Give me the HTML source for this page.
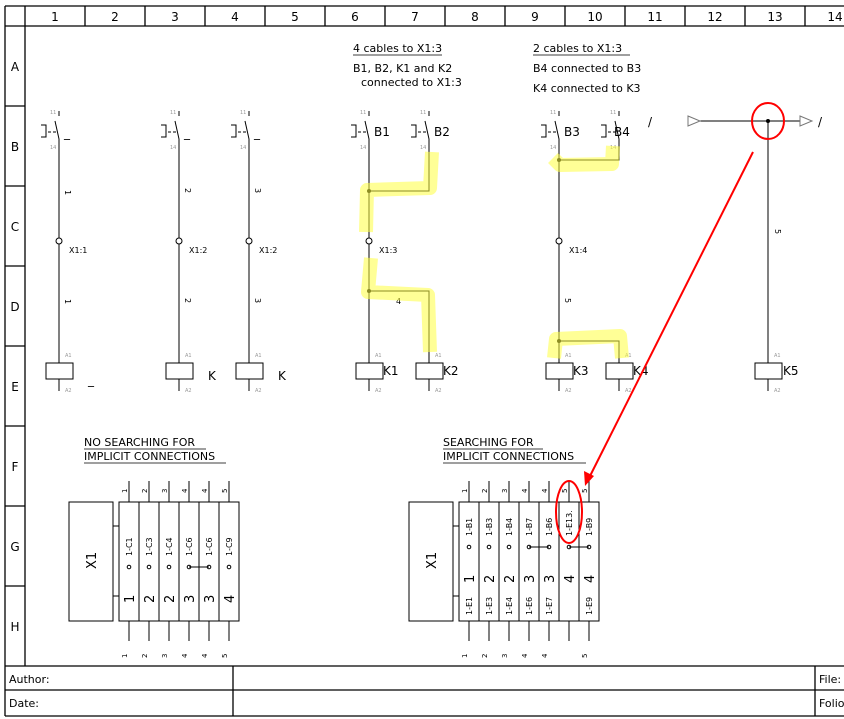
<!DOCTYPE html>
<html><head><meta charset="utf-8"><style>
html,body{margin:0;padding:0;background:#fff;}
svg{display:block;font-family:"DejaVu Sans","Liberation Sans",sans-serif;}
.s{fill:#999;font-size:5px}
.t{font-size:11px;fill:#000}
.w{stroke:#000;stroke-width:1;fill:none}
</style></head><body>
<svg width="844" height="719" viewBox="0 0 844 719" xmlns="http://www.w3.org/2000/svg">
<g stroke="#000" stroke-width="1.3" fill="none">
<path d="M5,6 H850 M5,26 H850 M5,6 V716 M25,6 V666 M5,716 H850 M5,666 H850 M5,690 H850 M233,666 V716 M815,666 V716"/>
<path d="M85,6V26 M145,6V26 M205,6V26 M265,6V26 M325,6V26 M385,6V26 M445,6V26 M505,6V26 M565,6V26 M625,6V26 M685,6V26 M745,6V26 M805,6V26"/>
<path d="M5,106H25 M5,186H25 M5,266H25 M5,346H25 M5,426H25 M5,506H25 M5,586H25"/>
</g>
<g font-size="12" text-anchor="middle">
<text x="55" y="21">1</text><text x="115" y="21">2</text><text x="175" y="21">3</text><text x="235" y="21">4</text><text x="295" y="21">5</text><text x="355" y="21">6</text><text x="415" y="21">7</text><text x="475" y="21">8</text><text x="535" y="21">9</text><text x="595" y="21">10</text><text x="655" y="21">11</text><text x="715" y="21">12</text><text x="775" y="21">13</text><text x="835" y="21">14</text>
<text x="15" y="71">A</text><text x="15" y="151">B</text><text x="15" y="231">C</text><text x="15" y="311">D</text><text x="15" y="391">E</text><text x="15" y="471">F</text><text x="15" y="551">G</text><text x="15" y="631">H</text>
</g>
<g font-size="11"><text x="9" y="683">Author:</text><text x="9" y="707">Date:</text><text x="819" y="683">File:</text><text x="819" y="707">Folio</text></g>

<g class="t">
<text x="353" y="52">4 cables to X1:3</text><text x="353" y="72">B1, B2, K1 and K2</text><text x="361" y="86">connected to X1:3</text>
<text x="533" y="52">2 cables to X1:3</text><text x="533" y="72">B4 connected to B3</text><text x="533" y="92">K4 connected to K3</text>
<text x="84" y="446">NO SEARCHING FOR</text><text x="84" y="460">IMPLICIT CONNECTIONS</text>
<text x="443" y="446">SEARCHING FOR</text><text x="443" y="460">IMPLICIT CONNECTIONS</text>
</g>
<path d="M353,55H442 M533,55H630 M84,449H206 M84,463H226 M443,449H543 M443,463H586" stroke="#000" stroke-width="0.8"/>

<g class="w">
<g transform="translate(59,0)"><path d="M0,111V116 M-4,121L0,139V152 M-18,125H-13V137H-18"/><path d="M-11,132H-3" stroke-dasharray="3,2"/></g>
<g transform="translate(179,0)"><path d="M0,111V116 M-4,121L0,139V152 M-18,125H-13V137H-18"/><path d="M-11,132H-3" stroke-dasharray="3,2"/></g>
<g transform="translate(249,0)"><path d="M0,111V116 M-4,121L0,139V152 M-18,125H-13V137H-18"/><path d="M-11,132H-3" stroke-dasharray="3,2"/></g>
<g transform="translate(369,0)"><path d="M0,111V116 M-4,121L0,139V152 M-18,125H-13V137H-18"/><path d="M-11,132H-3" stroke-dasharray="3,2"/></g>
<g transform="translate(429,0)"><path d="M0,111V116 M-4,121L0,139V152 M-18,125H-13V137H-18"/><path d="M-11,132H-3" stroke-dasharray="3,2"/></g>
<g transform="translate(559,0)"><path d="M0,111V116 M-4,121L0,139V152 M-18,125H-13V137H-18"/><path d="M-11,132H-3" stroke-dasharray="3,2"/></g>
<g transform="translate(619,0)"><path d="M0,111V116 M-4,121L0,139V152 M-18,125H-13V137H-18"/><path d="M-11,132H-3" stroke-dasharray="3,2"/></g>
<g transform="translate(59,0)"><path d="M0,352V363 M0,379V391"/><rect x="-13" y="363" width="27" height="16"/></g>
<g transform="translate(179,0)"><path d="M0,352V363 M0,379V391"/><rect x="-13" y="363" width="27" height="16"/></g>
<g transform="translate(249,0)"><path d="M0,352V363 M0,379V391"/><rect x="-13" y="363" width="27" height="16"/></g>
<g transform="translate(369,0)"><path d="M0,352V363 M0,379V391"/><rect x="-13" y="363" width="27" height="16"/></g>
<g transform="translate(429,0)"><path d="M0,352V363 M0,379V391"/><rect x="-13" y="363" width="27" height="16"/></g>
<g transform="translate(559,0)"><path d="M0,352V363 M0,379V391"/><rect x="-13" y="363" width="27" height="16"/></g>
<g transform="translate(619,0)"><path d="M0,352V363 M0,379V391"/><rect x="-13" y="363" width="27" height="16"/></g>
<g transform="translate(768,0)"><path d="M0,352V363 M0,379V391"/><rect x="-13" y="363" width="27" height="16"/></g>
<path d="M59,152V238 M59,244V352 M179,152V238 M179,244V352 M249,152V238 M249,244V352 M369,152V238 M369,244V352 M559,152V238 M559,244V352"/>
<path d="M429,152V191H369 M369,291H429V352 M619,152V160H559 M559,341H619V352"/>
<path d="M768,121V352 M700,121H800"/>
<path d="M688,116L700,121L688,126Z M800,116L812,121L800,126Z" stroke="#777"/>
<circle cx="59" cy="241" r="3"/><circle cx="179" cy="241" r="3"/><circle cx="249" cy="241" r="3"/><circle cx="369" cy="241" r="3"/><circle cx="559" cy="241" r="3"/>
</g>
<g fill="#000"><circle cx="369" cy="191" r="2"/><circle cx="369" cy="291" r="2"/><circle cx="559" cy="160" r="2"/><circle cx="559" cy="341" r="2"/><circle cx="768" cy="121" r="2"/></g>
<g class="s">
<text x="50" y="114">11</text><text x="50" y="149">14</text><text x="170" y="114">11</text><text x="170" y="149">14</text><text x="240" y="114">11</text><text x="240" y="149">14</text><text x="360" y="114">11</text><text x="360" y="149">14</text><text x="420" y="114">11</text><text x="420" y="149">14</text><text x="550" y="114">11</text><text x="550" y="149">14</text><text x="610" y="114">11</text><text x="610" y="149">14</text>
<text x="65" y="357">A1</text><text x="65" y="392">A2</text><text x="185" y="357">A1</text><text x="185" y="392">A2</text><text x="255" y="357">A1</text><text x="255" y="392">A2</text><text x="375" y="357">A1</text><text x="375" y="392">A2</text><text x="435" y="357">A1</text><text x="435" y="392">A2</text><text x="565" y="357">A1</text><text x="565" y="392">A2</text><text x="625" y="357">A1</text><text x="625" y="392">A2</text><text x="774" y="357">A1</text><text x="774" y="392">A2</text>
</g>
<g font-size="12">
<text x="64" y="137">_</text><text x="184" y="137">_</text><text x="254" y="137">_</text>
<text x="374" y="136">B1</text><text x="434" y="136">B2</text><text x="564" y="136">B3</text><text x="614" y="136">B4</text>
<text x="88" y="384">_</text><text x="208" y="380">K</text><text x="278" y="380">K</text>
<text x="383" y="375">K1</text><text x="443" y="375">K2</text><text x="573" y="375">K3</text><text x="633" y="375">K4</text><text x="783" y="375">K5</text>
<text x="648" y="126">/</text><text x="818" y="126">/</text>
</g>
<g font-size="8">
<text x="69" y="253">X1:1</text><text x="189" y="253">X1:2</text><text x="259" y="253">X1:2</text><text x="379" y="253">X1:3</text><text x="569" y="253">X1:4</text>
<text x="396" y="304">4</text>
<text transform="translate(65,190) rotate(90)">1</text><text transform="translate(65,299) rotate(90)">1</text>
<text transform="translate(185,188) rotate(90)">2</text><text transform="translate(185,298) rotate(90)">2</text>
<text transform="translate(255,188) rotate(90)">3</text><text transform="translate(255,298) rotate(90)">3</text>
<text transform="translate(565,298) rotate(90)">5</text><text transform="translate(775,229) rotate(90)">5</text>
</g>
<g stroke="#ffff40" stroke-opacity="0.55" stroke-width="14" fill="none" stroke-linejoin="round">
<path d="M432,152L430,188L367,190L366,232"/>
<path d="M371,258L368,292L428,295L430,352"/>
<path d="M553,158L560,165L612,164L613,146"/>
<path d="M554,358L556,339L620,336L622,358"/>
</g>

<g class="w">
<rect x="69" y="502" width="44" height="119"/><path d="M113,526H119 M113,596H119"/>
<rect x="119" y="502" width="120" height="119"/>
<path d="M139,502V621 M159,502V621 M179,502V621 M199,502V621 M219,502V621"/>
<path d="M129,481V502 M149,481V502 M169,481V502 M189,481V502 M209,481V502 M229,481V502 M129,621V641 M149,621V641 M169,621V641 M189,621V641 M209,621V641 M229,621V641"/>
<path d="M189,567H209"/>
<circle cx="129" cy="567" r="1.8"/><circle cx="149" cy="567" r="1.8"/><circle cx="169" cy="567" r="1.8"/><circle cx="189" cy="567" r="1.8"/><circle cx="209" cy="567" r="1.8"/><circle cx="229" cy="567" r="1.8"/>
<rect x="409" y="502" width="44" height="119"/><path d="M453,526H459 M453,596H459"/>
<rect x="459" y="502" width="140" height="119"/>
<path d="M479,502V621 M499,502V621 M519,502V621 M539,502V621 M559,502V621 M579,502V621"/>
<path d="M469,481V502 M489,481V502 M509,481V502 M529,481V502 M549,481V502 M569,481V502 M589,481V502 M469,621V641 M489,621V641 M509,621V641 M529,621V641 M549,621V641 M569,621V641 M589,621V641"/>
<path d="M529,547H549 M569,547H589"/>
<circle cx="469" cy="547" r="1.8"/><circle cx="489" cy="547" r="1.8"/><circle cx="509" cy="547" r="1.8"/><circle cx="529" cy="547" r="1.8"/><circle cx="549" cy="547" r="1.8"/><circle cx="569" cy="547" r="1.8"/><circle cx="589" cy="547" r="1.8"/>
</g>
<g font-size="13"><text transform="translate(96,569) rotate(-90)">X1</text><text transform="translate(436,569) rotate(-90)">X1</text></g>
<g font-size="8">
<text transform="translate(132,556) rotate(-90)">1-C1</text><text transform="translate(152,556) rotate(-90)">1-C3</text><text transform="translate(172,556) rotate(-90)">1-C4</text><text transform="translate(192,556) rotate(-90)">1-C6</text><text transform="translate(212,556) rotate(-90)">1-C6</text><text transform="translate(232,556) rotate(-90)">1-C9</text>
<text transform="translate(472,536) rotate(-90)">1-B1</text><text transform="translate(492,536) rotate(-90)">1-B3</text><text transform="translate(512,536) rotate(-90)">1-B4</text><text transform="translate(532,536) rotate(-90)">1-B7</text><text transform="translate(552,536) rotate(-90)">1-B6</text><text transform="translate(572,536) rotate(-90)">1-E13.</text><text transform="translate(592,536) rotate(-90)">1-B9</text>
<text transform="translate(472,615) rotate(-90)">1-E1</text><text transform="translate(492,615) rotate(-90)">1-E3</text><text transform="translate(512,615) rotate(-90)">1-E4</text><text transform="translate(532,615) rotate(-90)">1-E6</text><text transform="translate(552,615) rotate(-90)">1-E7</text><text transform="translate(592,615) rotate(-90)">1-E9</text>
</g>
<g font-size="7">
<text transform="translate(127,493) rotate(-90)">1</text><text transform="translate(147,493) rotate(-90)">2</text><text transform="translate(167,493) rotate(-90)">3</text><text transform="translate(187,493) rotate(-90)">4</text><text transform="translate(207,493) rotate(-90)">4</text><text transform="translate(227,493) rotate(-90)">5</text>
<text transform="translate(127,658) rotate(-90)">1</text><text transform="translate(147,658) rotate(-90)">2</text><text transform="translate(167,658) rotate(-90)">3</text><text transform="translate(187,658) rotate(-90)">4</text><text transform="translate(207,658) rotate(-90)">4</text><text transform="translate(227,658) rotate(-90)">5</text>
<text transform="translate(467,493) rotate(-90)">1</text><text transform="translate(487,493) rotate(-90)">2</text><text transform="translate(507,493) rotate(-90)">3</text><text transform="translate(527,493) rotate(-90)">4</text><text transform="translate(547,493) rotate(-90)">4</text><text transform="translate(567,493) rotate(-90)">5</text><text transform="translate(587,493) rotate(-90)">5</text>
<text transform="translate(467,658) rotate(-90)">1</text><text transform="translate(487,658) rotate(-90)">2</text><text transform="translate(507,658) rotate(-90)">3</text><text transform="translate(527,658) rotate(-90)">4</text><text transform="translate(547,658) rotate(-90)">4</text><text transform="translate(587,658) rotate(-90)">5</text>
</g>
<g font-size="13">
<text transform="translate(134,603) rotate(-90)">1</text><text transform="translate(154,603) rotate(-90)">2</text><text transform="translate(174,603) rotate(-90)">2</text><text transform="translate(194,603) rotate(-90)">3</text><text transform="translate(214,603) rotate(-90)">3</text><text transform="translate(234,603) rotate(-90)">4</text>
<text transform="translate(474,583) rotate(-90)">1</text><text transform="translate(494,583) rotate(-90)">2</text><text transform="translate(514,583) rotate(-90)">2</text><text transform="translate(534,583) rotate(-90)">3</text><text transform="translate(554,583) rotate(-90)">3</text><text transform="translate(574,583) rotate(-90)">4</text><text transform="translate(594,583) rotate(-90)">4</text>
</g>
<g stroke="#f00" stroke-width="2" fill="none">
<ellipse cx="768" cy="121" rx="16" ry="18"/>
<ellipse cx="569" cy="512" rx="13" ry="31"/>
<path d="M753,152L589,478"/>
</g>
<path d="M585,486L584,471L594,476Z" fill="#f00"/>
</svg>
</body></html>
